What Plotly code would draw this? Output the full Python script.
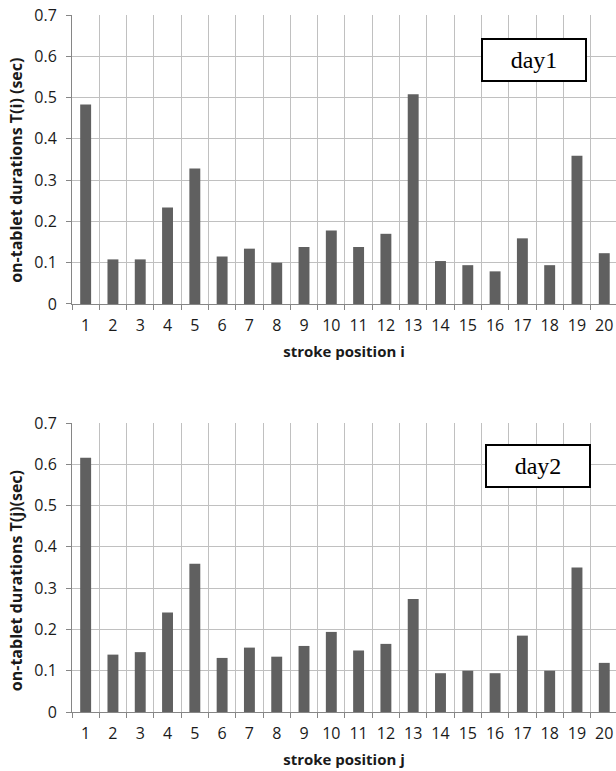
import plotly.graph_objects as go

positions = [str(i) for i in range(1, 21)]
day1 = [0.483, 0.108, 0.108, 0.234, 0.328, 0.115, 0.134, 0.100, 0.138, 0.178,
        0.138, 0.170, 0.508, 0.104, 0.094, 0.079, 0.159, 0.094, 0.359, 0.123]
day2 = [0.616, 0.139, 0.145, 0.241, 0.359, 0.131, 0.156, 0.134, 0.160, 0.194,
        0.149, 0.165, 0.274, 0.094, 0.100, 0.094, 0.185, 0.100, 0.350, 0.119]
y_ticks = [0, 0.1, 0.2, 0.3, 0.4, 0.5, 0.6, 0.7]
y_ticktext = ["0", "0.1", "0.2", "0.3", "0.4", "0.5", "0.6", "0.7"]

BAR = "#606060"
GRID = "#c0c0c0"
AXIS = "#868686"
FONT = "Open Sans"
TXT = "#1a1a1a"

fig = go.Figure()
fig.add_trace(go.Bar(x=positions, y=day1, marker=dict(color=BAR, line=dict(width=0)),
                     xaxis="x", yaxis="y", showlegend=False))
fig.add_trace(go.Bar(x=positions, y=day2, marker=dict(color=BAR, line=dict(width=0)),
                     xaxis="x2", yaxis="y2", showlegend=False))

xcommon = dict(type="category", range=[-0.5, 19.43], tickson="boundaries",
               showgrid=True, gridcolor=GRID, gridwidth=1,
               showline=True, linecolor=AXIS, linewidth=1,
               ticks="outside", ticklen=5, tickcolor=AXIS,
               ticklabelstandoff=7, tickangle=0, automargin=False,
               tickfont=dict(family=FONT, size=16, color=TXT),
               fixedrange=True)
ycommon = dict(range=[0, 0.7], tickvals=y_ticks, ticktext=y_ticktext,
               showgrid=True, gridcolor=GRID, gridwidth=1,
               showline=True, linecolor=AXIS, linewidth=1,
               ticks="outside", ticklen=5, tickcolor=AXIS,
               ticklabelstandoff=6, automargin=False,
               tickfont=dict(family=FONT, size=16, color=TXT),
               zeroline=False, fixedrange=True)

xtitle_font = dict(family=FONT, size=15, color=TXT)
ytitle_font = dict(family=FONT, size=16, color=TXT)

fig.update_layout(
    width=616, height=771,
    margin=dict(l=72, r=0, t=15, b=59),
    plot_bgcolor="white", paper_bgcolor="white",
    bargap=0.6,
    xaxis=dict(**xcommon, anchor="y",
               title=dict(text="<b>stroke position i</b>", standoff=11, font=xtitle_font)),
    yaxis=dict(**ycommon, domain=[0.5854, 1.0], anchor="x"),
    xaxis2=dict(**xcommon, anchor="y2",
                title=dict(text="<b>stroke position j</b>", standoff=11, font=xtitle_font)),
    yaxis2=dict(**ycommon, domain=[0.0, 0.4146], anchor="x2"),
    annotations=[
        dict(text="<b>on-tablet durations T(i) (sec)</b>", xref="paper", yref="y",
             x=-0.1029, y=0.3225, textangle=-90, showarrow=False,
             xanchor="center", yanchor="middle", font=ytitle_font),
        dict(text="<b>on-tablet durations T(j)(sec)</b>", xref="paper", yref="y2",
             x=-0.1029, y=0.317, textangle=-90, showarrow=False,
             xanchor="center", yanchor="middle", font=ytitle_font),
        dict(text="day1", xref="paper", yref="paper", x=0.849, y=0.9354,
             xanchor="center", yanchor="middle", showarrow=False,
             width=100, height=38, bgcolor="white",
             bordercolor="black", borderwidth=2, borderpad=1,
             font=dict(family="Liberation Serif", size=24, color="black")),
        dict(text="day2", xref="paper", yref="paper", x=0.8566, y=0.353,
             xanchor="center", yanchor="middle", showarrow=False,
             width=100, height=38, bgcolor="white",
             bordercolor="black", borderwidth=2, borderpad=1,
             font=dict(family="Liberation Serif", size=24, color="black")),
    ],
)

fig.write_html("out.html")
